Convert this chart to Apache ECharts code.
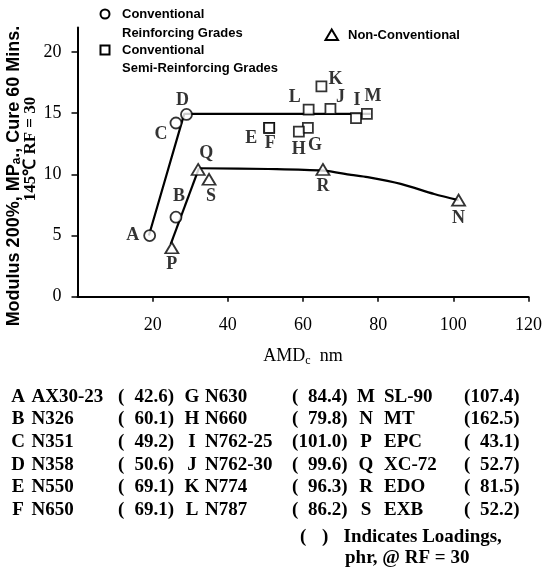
<!DOCTYPE html>
<html><head><meta charset="utf-8">
<script src="https://cdn.jsdelivr.net/npm/echarts@6/dist/echarts.min.js"></script>
<style>html,body{margin:0;padding:0;background:#fff}#c{width:545px;height:571px}</style>
</head><body><div id="c"></div>
<script>
// ---- data ----
const reinforcingLabels = ['A', 'B', 'C', 'D'];
const reinforcingX = [19.2, 26.2, 26.2, 29.0];
const reinforcingY = [5.0, 6.5, 14.2, 14.9];

const semiLabels = ['E', 'F', 'G', 'H', 'I', 'J', 'K', 'L', 'M'];
const semiX = [51.0, 51.0, 61.3, 58.9, 74.1, 67.3, 64.9, 61.5, 77.0];
const semiY = [13.8, 13.8, 13.8, 13.5, 14.6, 15.35, 17.2, 15.3, 14.95];

const nonConvLabels = ['N', 'P', 'Q', 'R', 'S'];
const nonConvX = [101.4, 25.1, 32.1, 65.3, 35.0];
const nonConvY = [7.9, 4.0, 10.4, 10.4, 9.6];

// hand-drawn trend lines
const reinforcingTrendX = [19.0, 28.4, 78.0];
const reinforcingTrendY = [5.0, 14.95, 14.95];
const nonConvRiseX = [24.8, 32.3];
const nonConvRiseY = [4.3, 10.5];
const nonConvCurveX = [32.3, 50.8, 65.3, 72.8, 77.2, 86.0, 94.9, 101.4];
const nonConvCurveY = [10.5, 10.44, 10.3, 9.96, 9.77, 9.22, 8.4, 7.9];

const xTickValues = [20, 40, 60, 80, 100, 120];
const yTickValues = [0, 5, 10, 15, 20];

// grade table
const gradeCodes = ['A','B','C','D','E','F','G','H','I','J','K','L','M','N','P','Q','R','S'];
const gradeNames = ['AX30-23','N326','N351','N358','N550','N650','N630','N660','N762-25','N762-30','N774','N787','SL-90','MT','EPC','XC-72','EDO','EXB'];
const gradeLoadings = ['42.6','60.1','49.2','50.6','69.1','69.1','84.4','79.8','101.0','99.6','96.3','86.2','107.4','162.5','43.1','52.7','81.5','52.2'];

// ---- styling / layout (not data) ----
const labelOffset = {A:[-17,0],B:[3,-21],C:[-15,11],D:[-4,-14],E:[-18,10],F:[1,15],G:[7,17],H:[0,18],
  I:[1,-18],J:[10,-12],K:[14,-7],L:[-14,-12],M:[6,-17],N:[0,18],P:[0,17],Q:[8,-16],R:[0,17],S:[2,17]};
const SERIF = '"Liberation Serif", "Times New Roman", serif';
const SANS = '"Liberation Sans", Arial, sans-serif';
const INK = '#000';

function pts(labels, xs, ys) {
  return xs.map((x, i) => ({
    value: [x, ys[i]], name: labels[i],
    label: { offset: labelOffset[labels[i]] }
  }));
}
function line(xs, ys) { return xs.map((x, i) => [x, ys[i]]); }

const pointLabel = {
  show: true, position: 'inside', formatter: p => p.name,
  color: INK, fontFamily: SERIF, fontWeight: 'bold', fontSize: 18
};
const hollow = { color: '#fff', borderColor: INK, borderWidth: 1.8 };

// ---- graphic: legend, y-axis title, table ----
const g = [];
function txt(x, y, text, opt) {
  g.push({ type: 'text', x, y, silent: true, style: Object.assign({
    text, fill: INK, font: 'bold 13px ' + SANS, align: 'left', verticalAlign: 'middle'
  }, opt || {}) });
}
// legend
g.push({ type: 'circle', shape: { cx: 105, cy: 14, r: 4.5 }, style: { fill: '#fff', stroke: INK, lineWidth: 2 } });
txt(122, 14, 'Conventional');
txt(122, 33, 'Reinforcing Grades');
g.push({ type: 'rect', shape: { x: 100.5, y: 45.5, width: 9, height: 9 }, style: { fill: '#fff', stroke: INK, lineWidth: 2 } });
txt(122, 50, 'Conventional');
txt(122, 68, 'Semi-Reinforcing Grades');
g.push({ type: 'polygon', shape: { points: [[331.7, 29.5], [325.5, 40], [338, 40]] }, style: { fill: '#fff', stroke: INK, lineWidth: 2 } });
txt(348, 35, 'Non-Conventional');

// y-axis title (rotated)
g.push({ type: 'text', x: 14, y: 176, rotation: Math.PI / 2, silent: true, style: {
  text: '{n|Modulus 200%, MP}{s|a}{n|., Cure 60 Mins.}', align: 'center', verticalAlign: 'middle', fill: INK,
  rich: { n: { font: 'bold 18px ' + SANS, fill: INK }, s: { font: 'bold 12px ' + SANS, fill: INK, verticalAlign: 'bottom', padding: [6, 0, 0, 0] } }
} });
g.push({ type: 'text', x: 31, y: 149, rotation: Math.PI / 2, silent: true, style: {
  text: '145\u2103 RF = 30', align: 'center', verticalAlign: 'middle', fill: INK, font: 'bold 17px ' + SERIF
} });

// table
const colLetterX = [18, 192, 366];
const colNameX = [31.5, 205, 384];
const colParenX = [118, 292, 464];
const colRightX = [174, 347.5, 519.5];
const tFont = 'bold 19px ' + SERIF;
gradeCodes.forEach((c, i) => {
  const col = Math.floor(i / 6), row = i % 6;
  const y = 396.7 + row * 22.7;
  txt(colLetterX[col], y, c, { font: tFont, align: 'center' });
  txt(colNameX[col], y, gradeNames[i], { font: tFont });
  txt(colParenX[col], y, '(', { font: tFont });
  txt(colRightX[col], y, gradeLoadings[i] + ')', { font: tFont, align: 'right' });
});
txt(300, 536.7, '(', { font: tFont });
txt(322, 536.7, ')', { font: tFont });
txt(343.5, 536.7, 'Indicates Loadings,', { font: tFont });
txt(345, 558.3, 'phr, @ RF = 30', { font: tFont });

const chart = echarts.init(document.getElementById('c'), null, { renderer: 'canvas' });
chart.setOption({
  backgroundColor: '#fff',
  animation: false,
  grid: { left: 77.5, right: 12, top: 27.6, bottom: 274.3, containLabel: false },
  xAxis: {
    type: 'value', min: 0, max: 120, interval: 20,
    name: '{m|AMD}{s|c}{m|  nm}', nameLocation: 'middle', nameGap: 50,
    nameTextStyle: { rich: {
      m: { fontFamily: SERIF, fontSize: 18, color: INK },
      s: { fontFamily: SERIF, fontSize: 12, color: INK, verticalAlign: 'bottom', padding: [8, 0, 0, 0] }
    } },
    axisLine: { show: true, onZero: false, lineStyle: { color: INK, width: 2 } },
    axisTick: { show: true, length: 5, lineStyle: { color: INK, width: 1.5 }, customValues: xTickValues },
    axisLabel: { color: INK, fontFamily: SERIF, fontSize: 18, margin: 20, customValues: xTickValues },
    splitLine: { show: false }
  },
  yAxis: {
    type: 'value', min: 0, max: 22, interval: 5,
    axisLine: { show: true, onZero: false, lineStyle: { color: INK, width: 2 } },
    axisTick: { show: true, length: 6, lineStyle: { color: INK, width: 1.5 }, customValues: yTickValues },
    axisLabel: { color: INK, fontFamily: SERIF, fontSize: 18, margin: 16, customValues: yTickValues },
    splitLine: { show: false }
  },
  series: [
    { type: 'line', name: 'Reinforcing trend', data: line(reinforcingTrendX, reinforcingTrendY), symbol: 'none',
      lineStyle: { color: INK, width: 2.2 }, z: 1, silent: true },
    { type: 'line', name: 'Non-Conventional rise', data: line(nonConvRiseX, nonConvRiseY), symbol: 'none',
      lineStyle: { color: INK, width: 2.2 }, z: 1, silent: true },
    { type: 'line', name: 'Non-Conventional trend', data: line(nonConvCurveX, nonConvCurveY), symbol: 'none', smooth: 0.3,
      lineStyle: { color: INK, width: 2.2 }, z: 1, silent: true },
    { type: 'scatter', name: 'Conventional Reinforcing Grades', data: pts(reinforcingLabels, reinforcingX, reinforcingY),
      symbol: 'circle', symbolSize: 11, itemStyle: hollow, label: pointLabel, z: 3 },
    { type: 'scatter', name: 'Conventional Semi-Reinforcing Grades', data: pts(semiLabels, semiX, semiY),
      symbol: 'rect', symbolSize: 10, itemStyle: hollow, label: pointLabel, z: 3 },
    { type: 'scatter', name: 'Non-Conventional', data: pts(nonConvLabels, nonConvX, nonConvY),
      symbol: 'triangle', symbolSize: [13, 11], itemStyle: hollow, label: pointLabel, z: 3 }
  ],
  graphic: g
});
</script>
</body></html>
